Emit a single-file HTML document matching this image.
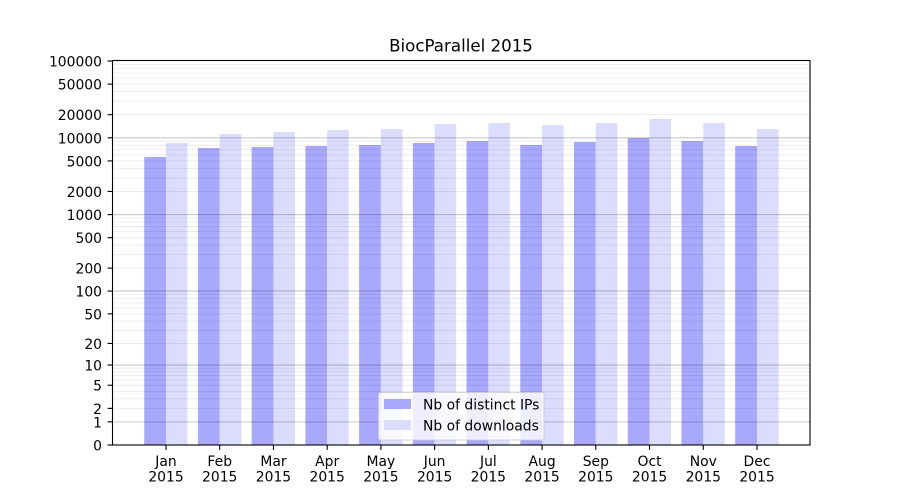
<!DOCTYPE html>
<html>
<head>
<meta charset="utf-8">
<style>
html,body{margin:0;padding:0;background:#fff;}
svg{display:block;}
text{font-family:"DejaVu Sans","Liberation Sans",sans-serif;fill:#000;}
</style>
</head>
<body>
<svg width="900" height="500" viewBox="0 0 900 500" xmlns="http://www.w3.org/2000/svg">
<rect x="0" y="0" width="900" height="500" fill="#fff"/>

<!-- bars -->
<g id="bars"></g>

<!-- grid -->
<g id="grid"></g>

<!-- legend -->
<rect x="378.5" y="392.5" width="165.5" height="47.5" rx="2.5" ry="2.5" fill="#fff" fill-opacity="0.8" stroke="#cccccc" stroke-opacity="0.8" stroke-width="1"/>
<rect x="384" y="399" width="27" height="10" fill="#a8a8fe"/>
<rect x="384" y="420" width="27" height="10" fill="#dcdcfe"/>
<text x="423" y="409.5" font-size="13.9">Nb of distinct IPs</text>
<text x="423" y="430.5" font-size="13.9">Nb of downloads</text>

<!-- axes frame -->
<rect x="112.5" y="60.5" width="697.5" height="384.5" fill="none" stroke="#000" stroke-width="1.1"/>

<g id="yticks"></g>
<g id="xticks"></g>

<text x="461" y="51.7" font-size="16.67" text-anchor="middle">BiocParallel 2015</text>

<script>
(function(){
  var NS="http://www.w3.org/2000/svg";
  function el(tag,attrs,parent,txt){var e=document.createElementNS(NS,tag);for(var k in attrs)e.setAttribute(k,attrs[k]);if(txt!==undefined)e.textContent=txt;parent.appendChild(e);return e;}
  function Y(v){return 445-76.8*Math.log10(v+1);}
  var bars=document.getElementById('bars');
  var tops=[[157,143],[148,134],[147,132],[146,130],[145,129],[143,124],[141,123],[145,125],[142,123],[138,119],[141,123],[146,129]];
  var months=["Jan","Feb","Mar","Apr","May","Jun","Jul","Aug","Sep","Oct","Nov","Dec"];
  var xt=document.getElementById('xticks');
  for(var i=0;i<12;i++){
    var t=166+i*53.727;
    el('rect',{x:(t-21.8).toFixed(2),y:tops[i][0],width:21.8,height:445-tops[i][0],fill:'#a8a8fe'},bars);
    el('rect',{x:t.toFixed(2),y:tops[i][1],width:21.5,height:445-tops[i][1],fill:'#dcdcfe'},bars);
    el('line',{x1:t,x2:t,y1:445,y2:449.9,stroke:'#000','stroke-width':1.1},xt);
    el('text',{x:t,y:466,'font-size':13.9,'text-anchor':'middle'},xt,months[i]);
    el('text',{x:t,y:481.5,'font-size':13.9,'text-anchor':'middle'},xt,"2015");
  }
  var grid=document.getElementById('grid');
  for(var n=0;n<5;n++){
    for(var k=2;k<=9;k++){
      var y=Y(k*Math.pow(10,n));
      el('line',{x1:112.5,x2:810,y1:y.toFixed(2),y2:y.toFixed(2),stroke:'#000','stroke-opacity':0.075,'stroke-width':1},grid);
    }
  }
  [1,10,100,1000,10000].forEach(function(v){
    var y=Y(v);
    el('line',{x1:112.5,x2:810,y1:y.toFixed(2),y2:y.toFixed(2),stroke:'#000','stroke-opacity':0.21,'stroke-width':1.1},grid);
  });
  var yt=document.getElementById('yticks');
  [0,1,2,5,10,20,50,100,200,500,1000,2000,5000,10000,20000,50000,100000].forEach(function(v){
    var y=Y(v);
    el('line',{x1:107.6,x2:112.5,y1:y.toFixed(2),y2:y.toFixed(2),stroke:'#000','stroke-width':1.1},yt);
    el('text',{x:102,y:(y+5.5).toFixed(2),'font-size':13.9,'text-anchor':'end'},yt,String(v));
  });
})();
</script>
</svg>
</body>
</html>
